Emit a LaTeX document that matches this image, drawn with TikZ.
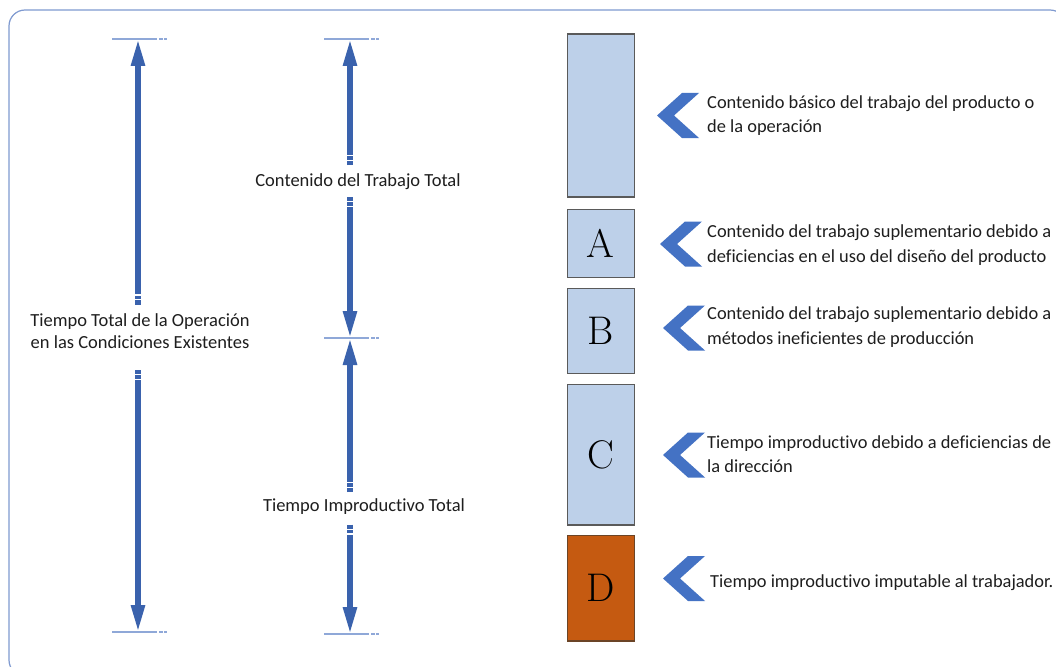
\documentclass[tikz,border=0pt]{standalone}
\usepackage{fontspec}
\setsansfont{Carlito}[Ligatures=NoCommon]
\usetikzlibrary{arrows.meta,calc}

\definecolor{arrowblue}{HTML}{3A62AD}
\definecolor{chevblue}{HTML}{4472C4}
\definecolor{tickblue}{HTML}{8FA8D8}
\definecolor{boxblue}{HTML}{BDD0E9}
\definecolor{boxline}{HTML}{5A5A5A}
\definecolor{rust}{HTML}{C55A11}
\definecolor{rustline}{HTML}{6B4426}
\definecolor{framecol}{HTML}{7F9AD0}
\definecolor{inktext}{HTML}{1E1E1E}

% white notches across a shaft end; #2 = +1 if the shaft runs downward from #1, -1 if upward
\newcommand\shaftnotches[2]{%
  \draw[notch] ($(#1)+(-5,4.7*#2)$) -- ++(10,0);
  \draw[notch] ($(#1)+(-5,9.5*#2)$) -- ++(10,0);
}

\begin{document}
\begin{tikzpicture}[x=1pt,y=-1pt,
  txt/.style={font=\sffamily\fontsize{18.5}{22}\selectfont, text=inktext, inner sep=0pt},
  centred/.style={txt, align=center},
  note/.style={txt, font=\sffamily\fontsize{18.4}{24.5}\selectfont, anchor=west, align=left},
  dimarrow/.style={draw=arrowblue, line width=5.5pt,
    -{Triangle[length=27pt,width=13pt]}},
  notch/.style={draw=white, line width=1.1pt},
  tick/.style={draw=tickblue, line width=1.4pt,
    dash pattern=on 45pt off 2.3pt on 4pt off 1pt on 2.4pt off 60pt},
  panel/.style={draw=boxline, line width=1.3pt, fill=boxblue, inner sep=0pt,
    minimum width=67pt, font=\fontsize{40}{40}\selectfont, text=black},
  chevmark/.pic={\fill[chevblue] (0,0) -- (25,-22.5) -- (42,-22.5) -- (17,0)
    -- (42,22.5) -- (25,22.5) -- cycle;}
]
\useasboundingbox (0,0) rectangle (1056,666);
\fill[white] (0,0) rectangle (1056,666);
\clip (0,0) rectangle (1056,666);

% outer frame, running past the right and bottom edges
\draw[framecol, line width=1.2pt, rounded corners=16pt] (9,10) rectangle (1066,676);

% ---- left dimension: whole operation time ----
\coordinate (L-top) at (138,39);
\coordinate (L-bot) at (138,632);
\coordinate (L-upend) at (138,304.5);
\coordinate (L-dnend) at (138,370);
\draw[tick] ($(L-top)+(-26,0)$) -- ++(55,0);
\draw[tick] ($(L-bot)+(-26,0)$) -- ++(55,0);
\node[centred] (L-text) at (140,331) {Tiempo Total de la Operación\\en las Condiciones Existentes};
\draw[dimarrow] (L-upend) -- (L-top);
\draw[dimarrow] (L-dnend) -- (L-bot);
\shaftnotches{L-upend}{-1}
\shaftnotches{L-dnend}{1}

% ---- middle dimensions: work content and ineffective time ----
\coordinate (M-top) at (350,39);
\coordinate (M-mid) at (350,338);
\coordinate (M-bot) at (350,634);
\draw[tick] ($(M-top)+(-26,0)$) -- ++(55,0);
\draw[tick] ($(M-mid)+(-26,0)$) -- ++(55,0);
\draw[tick] ($(M-bot)+(-26,0)$) -- ++(55,0);
\node[centred] (M-work) at (358,181.5) {Contenido del Trabajo Total};
\node[centred] (M-idle) at (364,506.5) {Tiempo Improductivo Total};
\coordinate (M-a) at (350,165);
\coordinate (M-b) at (350,197);
\coordinate (M-c) at (350,492);
\coordinate (M-d) at (350,524.5);
\draw[dimarrow] (M-a) -- (M-top);
\draw[dimarrow] (M-b) -- (M-mid);
\draw[dimarrow] (M-c) -- (M-mid);
\draw[dimarrow] (M-d) -- (M-bot);
\shaftnotches{M-a}{-1}
\shaftnotches{M-b}{1}
\shaftnotches{M-c}{-1}
\shaftnotches{M-d}{1}

% ---- stacked time blocks ----
\node[panel, minimum height=163pt] (P0) at (600.8,115.6) {};
\node[panel, minimum height=68pt]  (PA) at (600.8,243.3) {A};
\node[panel, minimum height=85pt]  (PB) at (600.8,330.8) {B};
\node[panel, minimum height=140.5pt] (PC) at (600.8,454.7) {C};
\node[panel, minimum height=105.3pt, fill=rust, draw=rustline] (PD) at (600.8,588.3) {D};

% ---- pointers and descriptions ----
\pic at (657,115.5) {chevmark};
\pic at (660,244) {chevmark};
\pic at (663,328) {chevmark};
\pic at (663,455) {chevmark};
\pic at (663,578.5) {chevmark};

\node[note] (N0) at (707,115.5) {Contenido básico del trabajo del producto o\\de la operación};
\node[note] (NA) at (707,245) {Contenido del trabajo suplementario debido a\\deficiencias en el uso del diseño del producto};
\node[note] (NB) at (707,327) {Contenido del trabajo suplementario debido a\\métodos ineficientes de producción};
\node[note] (NC) at (707,454) {Tiempo improductivo debido a deficiencias de\\la dirección};
\node[note] (ND) at (710,582.5) {Tiempo improductivo imputable al trabajador.};
\end{tikzpicture}
\end{document}
